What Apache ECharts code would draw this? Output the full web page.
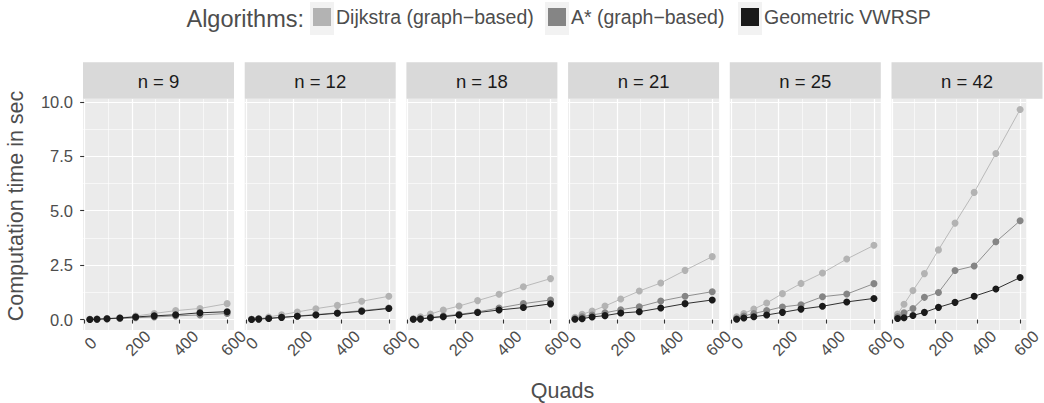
<!DOCTYPE html>
<html>
<head>
<meta charset="utf-8">
<script src="https://cdn.jsdelivr.net/npm/echarts@6/dist/echarts.min.js"></script>
<style>
html,body{margin:0;padding:0;background:#fff;}
#chart{width:1044px;height:403px;}
</style>
</head>
<body>
<div id="chart"></div>
<script>
// ---- data ----
const quads = [24, 54, 96, 150, 216, 294, 384, 486, 600];
const panelLabels = ['n = 9', 'n = 12', 'n = 18', 'n = 21', 'n = 25', 'n = 42'];
const algorithms = ['Dijkstra (graph\u2212based)', 'A* (graph\u2212based)', 'Geometric VWRSP'];
const xTicks = [0, 200, 400, 600];
const xMinor = [100, 300, 500];
const yTicks = [0, 2.5, 5, 7.5, 10];
const yMinor = [1.25, 3.75, 6.25, 8.75];
const dijkstra = [
  [0.01, 0.02, 0.05, 0.08, 0.16, 0.28, 0.41, 0.51, 0.73],
  [0.01, 0.04, 0.12, 0.22, 0.35, 0.50, 0.65, 0.84, 1.07],
  [0.05, 0.13, 0.25, 0.44, 0.62, 0.87, 1.16, 1.51, 1.88],
  [0.10, 0.24, 0.39, 0.62, 0.94, 1.31, 1.68, 2.26, 2.89],
  [0.13, 0.28, 0.48, 0.76, 1.19, 1.66, 2.14, 2.78, 3.41],
  [0.25, 0.70, 1.33, 2.11, 3.20, 4.43, 5.84, 7.63, 9.65]
];
const astar = [
  [0.01, 0.02, 0.03, 0.05, 0.08, 0.12, 0.17, 0.21, 0.28],
  [0.01, 0.03, 0.06, 0.10, 0.16, 0.23, 0.31, 0.41, 0.53],
  [0.01, 0.05, 0.10, 0.16, 0.24, 0.35, 0.53, 0.73, 0.90],
  [0.05, 0.13, 0.21, 0.31, 0.45, 0.59, 0.85, 1.07, 1.28],
  [0.05, 0.16, 0.28, 0.41, 0.58, 0.68, 1.05, 1.17, 1.65],
  [0.13, 0.31, 0.51, 1.02, 1.24, 2.25, 2.46, 3.57, 4.54]
];
const geometric = [
  [0.00, 0.01, 0.04, 0.07, 0.12, 0.17, 0.22, 0.31, 0.36],
  [0.00, 0.02, 0.05, 0.10, 0.15, 0.21, 0.29, 0.38, 0.51],
  [0.01, 0.02, 0.08, 0.13, 0.21, 0.32, 0.44, 0.55, 0.72],
  [0.01, 0.04, 0.12, 0.18, 0.30, 0.36, 0.53, 0.73, 0.90],
  [0.01, 0.07, 0.13, 0.21, 0.33, 0.48, 0.61, 0.81, 0.97],
  [0.05, 0.08, 0.19, 0.33, 0.56, 0.79, 1.07, 1.40, 1.93]
];

// ---- style / layout ----
const FONT = "'Liberation Sans', Arial, sans-serif";
const colors = ['#b3b3b3', '#858585', '#1a1a1a'];
const seriesData = [dijkstra, astar, geometric];
const X_MIN = -4.8, X_MAX = 628.8;
const Y_MIN = -0.48, Y_MAX = 10.13;
const gLeft0 = 83, gStep = 161.7, gWidth = 151, gTop = 99, gHeight = 231;
const stripTop = 62.3, stripH = 36.5;
const TICK_FS = 16.5;

const grids = [], xAxes = [], yAxes = [], series = [], graphics = [];
panelLabels.forEach((lab, i) => {
  const left = gLeft0 + i * gStep;
  grids.push({left: left, top: gTop, width: gWidth, height: gHeight, show: true,
    backgroundColor: '#ebebeb', borderWidth: 0, containLabel: false});
  xAxes.push({type: 'value', gridIndex: i, min: X_MIN, max: X_MAX, position: 'bottom',
    axisLine: {show: false},
    axisTick: {show: true, length: 4, customValues: xTicks, lineStyle: {color: '#333', width: 1.1}},
    axisLabel: {show: true, customValues: xTicks, rotate: 45, align: 'center', verticalAlign: 'top',
      margin: 7, color: '#4d4d4d', fontSize: TICK_FS, fontFamily: FONT},
    splitLine: {show: true, lineStyle: {color: '#ffffff', width: 1.2}}});
  xAxes.push({type: 'value', gridIndex: i, min: X_MIN, max: X_MAX, position: 'top',
    axisLine: {show: false},
    axisTick: {show: false, customValues: xMinor},
    axisLabel: {show: false, customValues: xMinor},
    splitLine: {show: true, lineStyle: {color: '#ffffff', width: 0.6}}});
  yAxes.push({type: 'value', gridIndex: i, min: Y_MIN, max: Y_MAX, position: 'left',
    axisLine: {show: false},
    axisTick: {show: i === 0, length: 4, customValues: yTicks, lineStyle: {color: '#333', width: 1.1}},
    axisLabel: {show: i === 0, customValues: yTicks, margin: 10, color: '#4d4d4d', fontSize: TICK_FS, fontFamily: FONT,
      formatter: v => v.toFixed(1)},
    splitLine: {show: true, lineStyle: {color: '#ffffff', width: 1.2}}});
  yAxes.push({type: 'value', gridIndex: i, min: Y_MIN, max: Y_MAX, position: 'right',
    axisLine: {show: false},
    axisTick: {show: false, customValues: yMinor},
    axisLabel: {show: false, customValues: yMinor},
    splitLine: {show: true, lineStyle: {color: '#ffffff', width: 0.6}}});
  seriesData.forEach((arr, k) => {
    series.push({type: 'line', name: algorithms[k], xAxisIndex: 2 * i, yAxisIndex: 2 * i,
      data: quads.map((q, j) => [q, arr[i][j]]),
      symbol: 'circle', symbolSize: 7, showSymbol: true,
      lineStyle: {color: colors[k], width: 0.9}, itemStyle: {color: colors[k]},
      z: 2 + k, animation: false, silent: true});
  });
  graphics.push({type: 'rect', shape: {x: left, y: stripTop, width: gWidth, height: stripH},
    style: {fill: '#d9d9d9'}, silent: true});
  graphics.push({type: 'text', x: left + gWidth / 2, y: stripTop + stripH / 2 + 0.5,
    style: {text: lab, fill: '#1a1a1a', font: '18.5px ' + FONT, textAlign: 'center', textVerticalAlign: 'middle'}});
});

graphics.push({type: 'text', x: 562.5, y: 391,
  style: {text: 'Quads', fill: '#4d4d4d', font: '21.5px ' + FONT, textAlign: 'center', textVerticalAlign: 'middle'}});
graphics.push({type: 'text', x: 16, y: 206, rotation: Math.PI / 2,
  style: {text: 'Computation time in sec', fill: '#4d4d4d', font: '21.5px ' + FONT, textAlign: 'center', textVerticalAlign: 'middle'}});
graphics.push({type: 'text', x: 304, y: 18.5,
  style: {text: 'Algorithms:', fill: '#4d4d4d', font: '23.5px ' + FONT, textAlign: 'right', textVerticalAlign: 'middle'}});

// legend: one component per key, each with its key background
const keyLefts = [313, 548, 741];
const legends = algorithms.map((a, k) => ({
  data: [{name: a, icon: 'rect', itemStyle: {color: colors[k], borderWidth: 0}}],
  left: keyLefts[k], top: 7, itemWidth: 18, itemHeight: 18, itemGap: 0, padding: 0,
  selectedMode: false,
  textStyle: {color: '#4d4d4d', fontSize: 19.5, fontFamily: FONT, padding: [0, 0, 0, 0]}
}));
keyLefts.forEach(x => graphics.push({type: 'rect', shape: {x: x - 3, y: 2, width: 24, height: 33},
  style: {fill: '#f2f2f2'}, silent: true, z: -1}));

const chart = echarts.init(document.getElementById('chart'), null, {renderer: 'svg'});
chart.setOption({
  animation: false,
  backgroundColor: '#ffffff',
  grid: grids,
  xAxis: xAxes,
  yAxis: yAxes,
  series: series,
  legend: legends,
  graphic: graphics
});
</script>
</body>
</html>
